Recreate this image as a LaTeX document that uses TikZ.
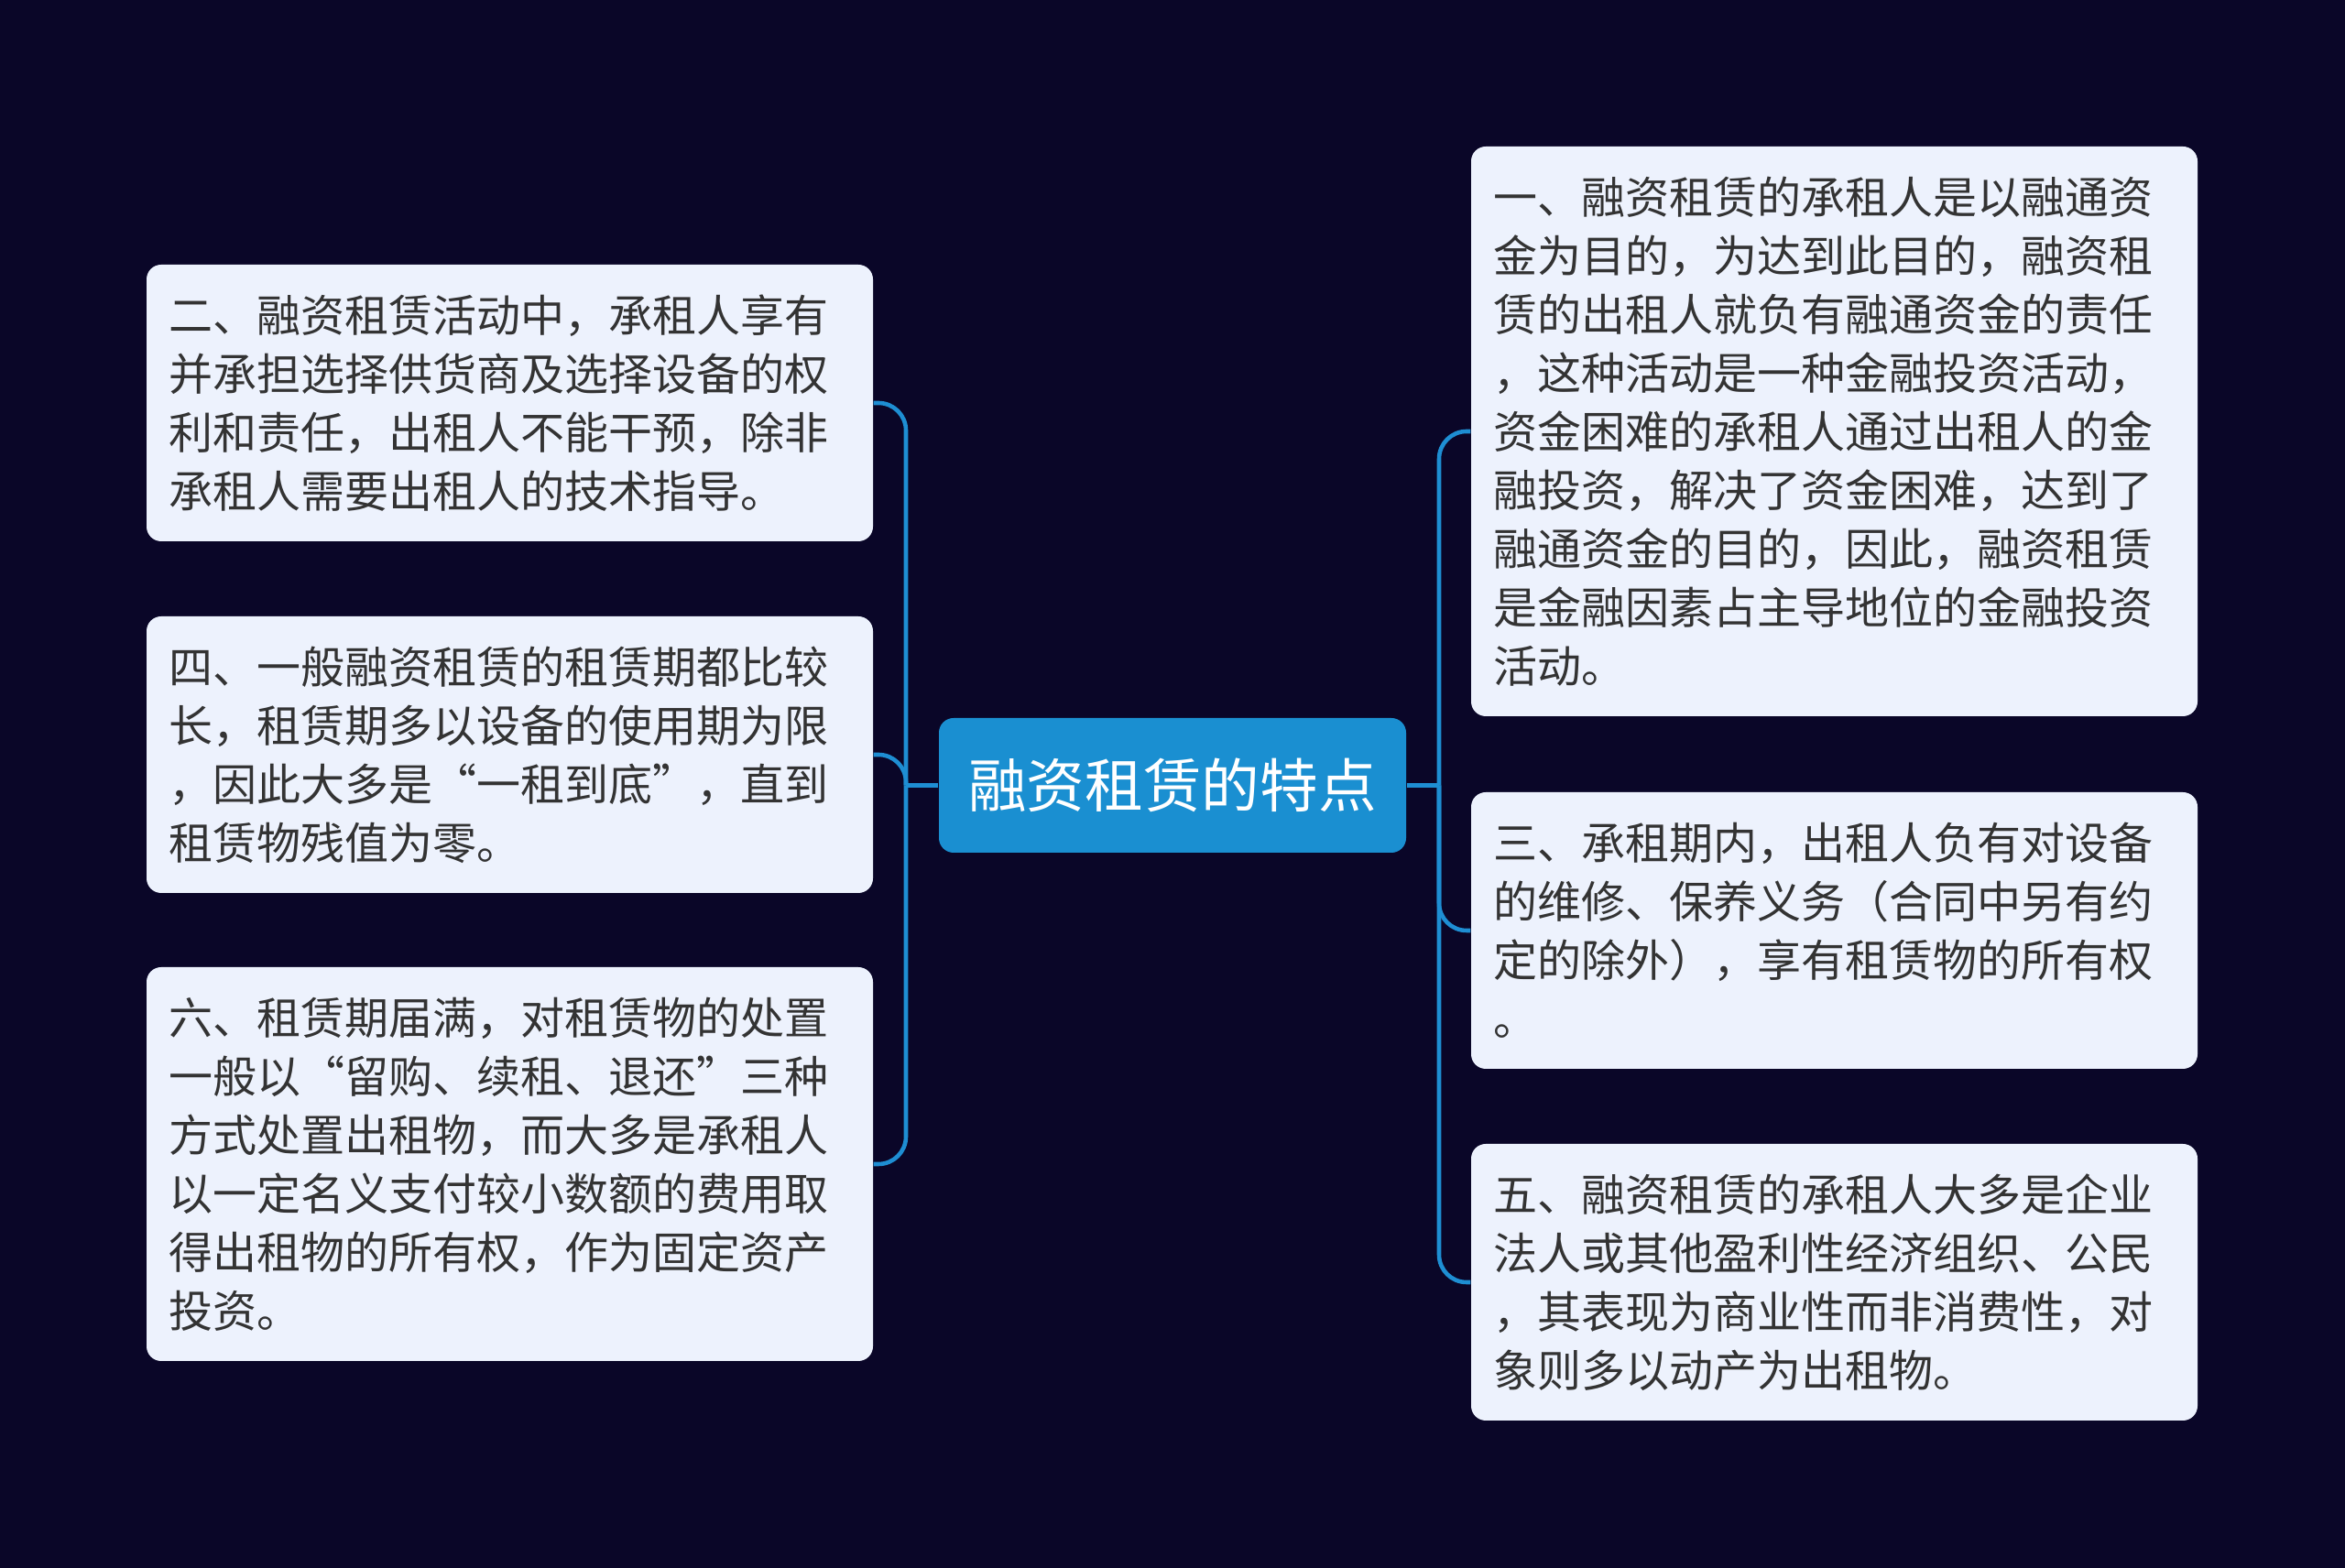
\documentclass[tikz,border=0pt]{standalone}
\usepackage{fontspec}
\setmainfont{Noto Sans CJK SC}
\usepackage{xcolor}
\usepackage{tikz}
\definecolor{fondo}{HTML}{0A0628}
\definecolor{azul}{HTML}{1A8FD1}
\definecolor{linea}{HTML}{1E8ED3}
\definecolor{hoja}{HTML}{EDF2FD}
\definecolor{texto}{HTML}{333333}

\begin{document}
\begin{tikzpicture}[x=1cm,y=1cm,
  tema/.style={fill=azul,rounded corners=0.16cm,text=white,minimum width=5.1cm,
    minimum height=1.47cm,inner sep=0pt,font=\fontsize{18.1}{22}\selectfont},
  rama/.style={fill=hoja,rounded corners=0.16cm,text=texto,text width=7.45cm,
    inner xsep=0.24cm,inner ysep=0pt,align=left,font=\fontsize{13.66}{18.2}\selectfont},
  enlace/.style={draw=linea,line width=1.3pt,rounded corners=0.3cm}]
  \fill[fondo] (0,0) rectangle (25.6,17.12);
  \node[tema] (raiz) at (12.80,8.545) {融资租赁的特点};
  \node[rama,minimum height=3.02cm] (n2) at (5.565,12.72) {二、融资租赁活动中，承租人享有\\并承担选择供货商及选择设备的权\\利和责任，出租人不能干预，除非\\承租人需要出租人的技术指导。};
  \node[rama,minimum height=3.02cm] (n4) at (5.565,8.88) {四、一般融资租赁的租赁期都比较\\长，租赁期多以设备的使用期为限\\，因此大多是“一租到底”，直到\\租赁物残值为零。};
  \node[rama,minimum height=4.30cm] (n6) at (5.565,4.41) {六、租赁期届满，对租赁物的处置\\一般以“留购、续租、退还”三种\\方式处置出租物，而大多是承租人\\以一定名义支付较小数额的费用取\\得出租物的所有权，作为固定资产\\投资。};
  \node[rama,minimum height=6.22cm] (n1) at (20.025,12.41) {一、融资租赁的承租人是以融通资\\金为目的，为达到此目的，融资租\\赁的出租人就负有融通资金的责任\\，这种活动是一种金融投资活动，\\资金困难的承租人通过出租人的金\\融投资，解决了资金困难，达到了\\融通资金的目的，因此，融资租赁\\是金融因素占主导地位的金融投资\\活动。};
  \node[rama,minimum height=3.02cm] (n3) at (20.025,6.96) {三、承租期内，出租人负有对设备\\的维修、保养义务（合同中另有约\\定的除外），享有租赁物的所有权\\。};
  \node[rama,minimum height=3.02cm] (n5) at (20.025,3.12) {五、融资租赁的承租人大多是企业\\法人或其他盈利性经济组织、公民\\，其表现为商业性而非消费性，对\\象则多以动产为出租物。};
  \coordinate (izq) at (9.89,8.545);
  \coordinate (der) at (15.71,8.545);
  \draw[enlace] (raiz.west) -- (izq);
  \draw[enlace] (raiz.east) -- (der);
  \draw[enlace] (izq) |- (n2.east);
  \draw[enlace] (izq) |- (n4.east);
  \draw[enlace] (izq) |- (n6.east);
  \draw[enlace] (der) |- (n1.west);
  \draw[enlace] (der) |- (n3.west);
  \draw[enlace] (der) |- (n5.west);
\end{tikzpicture}
\end{document}
